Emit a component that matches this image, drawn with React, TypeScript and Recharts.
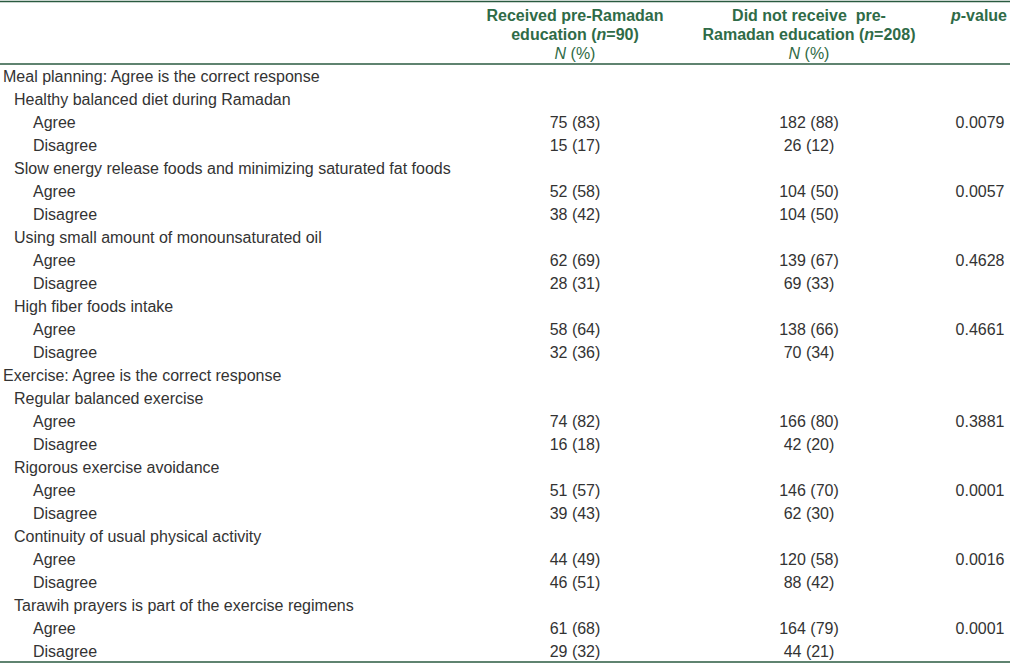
import React from "react";
import { BarChart, Bar, XAxis, YAxis, Customized } from "recharts";

const sections = [
  "Meal planning: Agree is the correct response",
  "Exercise: Agree is the correct response",
];
const items = [
  "Healthy balanced diet during Ramadan",
  "Slow energy release foods and minimizing saturated fat foods",
  "Using small amount of monounsaturated oil",
  "High fiber foods intake",
  "Regular balanced exercise",
  "Rigorous exercise avoidance",
  "Continuity of usual physical activity",
  "Tarawih prayers is part of the exercise regimens",
];
const itemSection = [0, 0, 0, 0, 1, 1, 1, 1];
const responses = ["Agree", "Disagree"];

const receivedN = [[75, 15], [52, 38], [62, 28], [58, 32], [74, 16], [51, 39], [44, 46], [61, 29]];
const receivedPct = [[83, 17], [58, 42], [69, 31], [64, 36], [82, 18], [57, 43], [49, 51], [68, 32]];
const notReceivedN = [[182, 26], [104, 104], [139, 69], [138, 70], [166, 42], [146, 62], [120, 88], [164, 44]];
const notReceivedPct = [[88, 12], [50, 50], [67, 33], [66, 34], [80, 20], [70, 30], [58, 42], [79, 21]];
const pValues = ["0.0079", "0.0057", "0.4628", "0.4661", "0.3881", "0.0001", "0.0016", "0.0001"];

type Row = { id: string; label: string; level: number; a: string; b: string; p: string; v: number };

const rows: Row[] = [];
items.forEach((item, i) => {
  if (i === 0 || itemSection[i] !== itemSection[i - 1]) {
    rows.push({ id: String(rows.length), label: sections[itemSection[i]], level: 0, a: "", b: "", p: "", v: 0 });
  }
  rows.push({ id: String(rows.length), label: item, level: 1, a: "", b: "", p: "", v: 0 });
  responses.forEach((r, j) => {
    rows.push({
      id: String(rows.length),
      label: r,
      level: 2,
      a: `${receivedN[i][j]} (${receivedPct[i][j]})`,
      b: `${notReceivedN[i][j]} (${notReceivedPct[i][j]})`,
      p: j === 0 ? pValues[i] : "",
      v: 0,
    });
  });
});

const W = 1010;
const H = 664;
const FONT = "'Liberation Sans', Arial, Helvetica, sans-serif";
const INK = "#333333";
const GREEN = "#2f6b47";
const RULE = "#2a5a40";
const indent = [3, 14, 33];
const colA = 575;
const colB = 809;
const colP = 980;

const renderRow = (props: any) => {
  const row = rows[Number(props.payload?.value)];
  if (!row) return <g />;
  const y = props.y + 5.5;
  return (
    <g fontFamily={FONT} fontSize={16} fill={INK}>
      <text x={indent[row.level]} y={y}>{row.label}</text>
      <text x={colA} y={y} textAnchor="middle">{row.a}</text>
      <text x={colB} y={y} textAnchor="middle">{row.b}</text>
      <text x={colP} y={y} textAnchor="middle">{row.p}</text>
    </g>
  );
};

const Header = () => (
  <g fontFamily={FONT} fontSize={16} fill={GREEN}>
    <line x1={0} x2={W} y1={1.5} y2={1.5} stroke={RULE} strokeWidth={1.5} />
    <line x1={0} x2={W} y1={64} y2={64} stroke={RULE} strokeWidth={1.5} />
    <line x1={0} x2={W} y1={662} y2={662} stroke={RULE} strokeWidth={1.5} />
    <text x={colA} y={21} textAnchor="middle" fontWeight="bold">Received pre-Ramadan</text>
    <text x={colA} y={40} textAnchor="middle" fontWeight="bold">
      education (<tspan fontStyle="italic">n</tspan>=90)
    </text>
    <text x={colA} y={59} textAnchor="middle">
      <tspan fontStyle="italic">N</tspan> (%)
    </text>
    <text x={colB} y={21} textAnchor="middle" fontWeight="bold" style={{ whiteSpace: "pre" }}>
      Did not receive  pre-
    </text>
    <text x={colB} y={40} textAnchor="middle" fontWeight="bold">
      Ramadan education (<tspan fontStyle="italic">n</tspan>=208)
    </text>
    <text x={colB} y={59} textAnchor="middle">
      <tspan fontStyle="italic">N</tspan> (%)
    </text>
    <text x={1007} y={21} textAnchor="end" fontWeight="bold">
      <tspan fontStyle="italic">p</tspan>-value
    </text>
  </g>
);

export default function App() {
  return (
    <div style={{ position: "absolute", left: 0, top: 0, width: W, height: H, background: "#fff" }}>
      <BarChart
        width={W}
        height={H}
        data={rows}
        layout="vertical"
        margin={{ top: 64.5, right: 0, bottom: 0.5, left: 0 }}
      >
        <XAxis type="number" domain={[0, 1]} hide />
        <YAxis
          type="category"
          dataKey="id"
          width={2}
          interval={0}
          minTickGap={0}
          axisLine={false}
          tickLine={false}
          tick={renderRow}
        />
        <Bar dataKey="v" fill="none" isAnimationActive={false} />
        <Customized component={<Header />} />
      </BarChart>
    </div>
  );
}
